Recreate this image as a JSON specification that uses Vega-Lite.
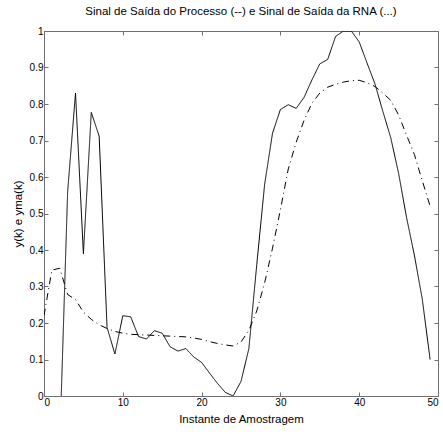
{
  "$schema": "https://vega.github.io/schema/vega-lite/v6.json",
  "width": 394,
  "height": 365,
  "autosize": {"type": "none"},
  "padding": {"left": 44, "top": 31, "right": 5, "bottom": 38},
  "background": "white",
  "title": {"text": "Sinal de Saída do Processo (--) e Sinal de Saída da RNA (...)", "font": "Liberation Sans", "fontSize": 11.5, "fontWeight": "normal", "color": "black", "anchor": "middle", "offset": 9},
  "config": {
    "view": {"stroke": null},
    "axis": {"grid": false, "domainColor": "#707070", "tickColor": "#707070", "labelColor": "black", "labelFont": "Liberation Sans", "labelFontSize": 10, "titleFont": "Liberation Sans", "titleFontSize": 11.5, "titleFontWeight": "normal", "titleColor": "black", "tickSize": -4, "labelPadding": 5}
  },
  "datasets": {
    "d": [
      {"x": 2, "y": -0.13, "s": "proc"}, {"x": 3, "y": 0.56, "s": "proc"}, {"x": 4, "y": 0.83, "s": "proc"}, {"x": 5, "y": 0.39, "s": "proc"}, {"x": 6, "y": 0.777, "s": "proc"}, {"x": 7, "y": 0.712, "s": "proc"}, {"x": 8, "y": 0.188, "s": "proc"}, {"x": 9, "y": 0.115, "s": "proc"}, {"x": 10, "y": 0.22, "s": "proc"}, {"x": 11, "y": 0.217, "s": "proc"}, {"x": 12, "y": 0.163, "s": "proc"}, {"x": 13, "y": 0.156, "s": "proc"}, {"x": 14, "y": 0.179, "s": "proc"}, {"x": 15, "y": 0.172, "s": "proc"}, {"x": 16, "y": 0.135, "s": "proc"}, {"x": 17, "y": 0.123, "s": "proc"}, {"x": 18, "y": 0.13, "s": "proc"}, {"x": 19, "y": 0.107, "s": "proc"}, {"x": 20, "y": 0.092, "s": "proc"}, {"x": 21, "y": 0.063, "s": "proc"}, {"x": 22, "y": 0.035, "s": "proc"}, {"x": 23, "y": 0.01, "s": "proc"}, {"x": 24, "y": 0.0, "s": "proc"}, {"x": 25, "y": 0.04, "s": "proc"}, {"x": 26, "y": 0.13, "s": "proc"}, {"x": 27, "y": 0.36, "s": "proc"}, {"x": 28, "y": 0.58, "s": "proc"}, {"x": 29, "y": 0.72, "s": "proc"}, {"x": 30, "y": 0.785, "s": "proc"}, {"x": 31, "y": 0.798, "s": "proc"}, {"x": 32, "y": 0.788, "s": "proc"}, {"x": 33, "y": 0.818, "s": "proc"}, {"x": 34, "y": 0.866, "s": "proc"}, {"x": 35, "y": 0.91, "s": "proc"}, {"x": 36, "y": 0.922, "s": "proc"}, {"x": 37, "y": 0.985, "s": "proc"}, {"x": 38, "y": 1.0, "s": "proc"}, {"x": 39, "y": 1.0, "s": "proc"}, {"x": 40, "y": 0.97, "s": "proc"}, {"x": 41, "y": 0.912, "s": "proc"}, {"x": 42, "y": 0.855, "s": "proc"}, {"x": 43, "y": 0.78, "s": "proc"}, {"x": 44, "y": 0.708, "s": "proc"}, {"x": 45, "y": 0.61, "s": "proc"}, {"x": 46, "y": 0.49, "s": "proc"}, {"x": 47, "y": 0.386, "s": "proc"}, {"x": 48, "y": 0.266, "s": "proc"}, {"x": 49, "y": 0.1, "s": "proc"},
      {"x": 0, "y": 0.22, "s": "rna"}, {"x": 1, "y": 0.345, "s": "rna"}, {"x": 2, "y": 0.35, "s": "rna"}, {"x": 3, "y": 0.278, "s": "rna"}, {"x": 4, "y": 0.264, "s": "rna"}, {"x": 5, "y": 0.23, "s": "rna"}, {"x": 6, "y": 0.21, "s": "rna"}, {"x": 7, "y": 0.195, "s": "rna"}, {"x": 8, "y": 0.185, "s": "rna"}, {"x": 9, "y": 0.177, "s": "rna"}, {"x": 10, "y": 0.172, "s": "rna"}, {"x": 11, "y": 0.169, "s": "rna"}, {"x": 12, "y": 0.168, "s": "rna"}, {"x": 13, "y": 0.167, "s": "rna"}, {"x": 14, "y": 0.166, "s": "rna"}, {"x": 15, "y": 0.165, "s": "rna"}, {"x": 16, "y": 0.164, "s": "rna"}, {"x": 17, "y": 0.163, "s": "rna"}, {"x": 18, "y": 0.162, "s": "rna"}, {"x": 19, "y": 0.159, "s": "rna"}, {"x": 20, "y": 0.155, "s": "rna"}, {"x": 21, "y": 0.149, "s": "rna"}, {"x": 22, "y": 0.144, "s": "rna"}, {"x": 23, "y": 0.14, "s": "rna"}, {"x": 24, "y": 0.137, "s": "rna"}, {"x": 25, "y": 0.148, "s": "rna"}, {"x": 26, "y": 0.18, "s": "rna"}, {"x": 27, "y": 0.233, "s": "rna"}, {"x": 28, "y": 0.31, "s": "rna"}, {"x": 29, "y": 0.405, "s": "rna"}, {"x": 30, "y": 0.51, "s": "rna"}, {"x": 31, "y": 0.622, "s": "rna"}, {"x": 32, "y": 0.695, "s": "rna"}, {"x": 33, "y": 0.755, "s": "rna"}, {"x": 34, "y": 0.802, "s": "rna"}, {"x": 35, "y": 0.83, "s": "rna"}, {"x": 36, "y": 0.846, "s": "rna"}, {"x": 37, "y": 0.854, "s": "rna"}, {"x": 38, "y": 0.86, "s": "rna"}, {"x": 39, "y": 0.864, "s": "rna"}, {"x": 40, "y": 0.865, "s": "rna"}, {"x": 41, "y": 0.858, "s": "rna"}, {"x": 42, "y": 0.848, "s": "rna"}, {"x": 43, "y": 0.83, "s": "rna"}, {"x": 44, "y": 0.81, "s": "rna"}, {"x": 45, "y": 0.77, "s": "rna"}, {"x": 46, "y": 0.715, "s": "rna"}, {"x": 47, "y": 0.662, "s": "rna"}, {"x": 48, "y": 0.59, "s": "rna"}, {"x": 49, "y": 0.52, "s": "rna"}
    ]
  },
  "data": {"name": "d"},
  "layer": [
    {
      "mark": {"type": "line", "strokeWidth": 1, "color": "black", "clip": true},
      "encoding": {
        "x": {"field": "x", "type": "quantitative", "scale": {"domain": [0, 50], "nice": false, "zero": false}, "axis": {"orient": "bottom", "values": [0, 10, 20, 30, 40, 50], "title": "Instante de Amostragem", "titlePadding": 6}},
        "y": {"field": "y", "type": "quantitative", "scale": {"domain": [0, 1], "nice": false}, "axis": {"orient": "left", "values": [0, 0.1, 0.2, 0.3, 0.4, 0.5, 0.6, 0.7, 0.8, 0.9, 1], "format": "~g", "title": "y(k) e yma(k)", "titlePadding": 6}},
        "strokeDash": {"field": "s", "type": "nominal", "scale": {"domain": ["proc", "rna"], "range": [[1, 0], [7, 4, 1, 4]]}, "legend": null},
        "detail": {"field": "s"}
      }
    },
    {
      "mark": {"type": "line", "opacity": 0},
      "encoding": {
        "x": {"field": "x", "type": "quantitative", "axis": {"orient": "top", "values": [0, 10, 20, 30, 40, 50], "labels": false, "title": null}},
        "y": {"field": "y", "type": "quantitative", "axis": {"orient": "right", "values": [0, 0.1, 0.2, 0.3, 0.4, 0.5, 0.6, 0.7, 0.8, 0.9, 1], "labels": false, "title": null}},
        "detail": {"field": "s"}
      }
    }
  ],
  "resolve": {"axis": {"x": "independent", "y": "independent"}}
}
